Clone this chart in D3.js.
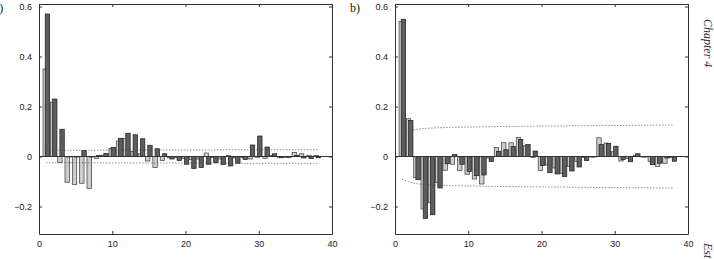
<!DOCTYPE html>
<html>
<head>
<meta charset="utf-8">
<script src="https://cdn.jsdelivr.net/npm/d3@7"></script>
<style>
  html, body { margin: 0; padding: 0; background: #fff; }
  svg { display: block; }
  .tick text { font-family: "Liberation Sans", Arial, sans-serif; font-size: 9px; fill: #222; }
</style>
</head>
<body>
<svg id="chart" width="714" height="259"></svg>
<script>
// ---- data ----
const lags = d3.range(1, 39);
const xTicks = [0, 10, 20, 30, 40];
const yTicks = [-0.2, 0, 0.2, 0.4, 0.6];
const panelLabels = ["a)", "b)"];
const headerText = "Chapter 4";
const footerText = "Est";

const aLight = [0.35, 0.217, -0.024, -0.103, -0.112, -0.107, -0.128, -0.007, 0.005, 0.032,
  0.062, 0.072, 0.02, 0.011, -0.018, -0.044, -0.016, -0.005, -0.005, -0.008,
  -0.012, -0.01, 0.014, -0.005, -0.01, 0.004, -0.006, -0.004, -0.01, -0.003,
  -0.007, 0.004, -0.004, -0.003, 0.016, 0.011, 0.005, 0.004];
const aDark = [0.57, 0.23, 0.109, -0.002, -0.002, 0.024, -0.002, 0.004, 0.012, 0.037,
  0.073, 0.093, 0.087, 0.071, 0.045, 0.031, 0.011, -0.01, -0.016, -0.031,
  -0.048, -0.044, -0.031, -0.025, -0.032, -0.038, -0.027, -0.012, 0.046, 0.082,
  0.038, 0.011, -0.005, -0.003, 0.004, -0.006, -0.008, -0.005];
const aBand = [0.025, 0.025, 0.025, 0.025, 0.025, 0.025, 0.025, 0.025, 0.026, 0.026,
  0.026, 0.026, 0.026, 0.026, 0.026, 0.026, 0.026, 0.026, 0.026, 0.026,
  0.026, 0.026, 0.026, 0.026, 0.027, 0.027, 0.027, 0.027, 0.027, 0.027,
  0.027, 0.027, 0.027, 0.027, 0.027, 0.027, 0.027, 0.027];

const bLight = [0.54, 0.151, -0.085, -0.21, -0.185, -0.105, -0.055, -0.031, -0.056, -0.071,
  -0.09, -0.11, -0.006, 0.036, 0.055, 0.055, 0.076, 0.043, -0.004, -0.056,
  -0.034, -0.046, -0.068, -0.04, -0.02, -0.004, -0.002, 0.075, 0.054, 0.019,
  -0.018, -0.008, 0.004, -0.002, -0.02, -0.04, -0.027, -0.005];
const bDark = [0.549, 0.144, -0.093, -0.248, -0.233, -0.126, -0.029, 0.008, -0.031, -0.06,
  -0.077, -0.074, -0.02, 0.021, 0.027, 0.04, 0.068, 0.048, 0.022, -0.036,
  -0.065, -0.07, -0.08, -0.058, -0.042, -0.016, -0.002, 0.048, 0.052, 0.041,
  -0.012, -0.021, 0.011, -0.002, -0.033, -0.027, -0.006, -0.019];
const bBand = [0.09, 0.103, 0.109, 0.112, 0.114, 0.115, 0.116, 0.117, 0.117, 0.118,
  0.118, 0.119, 0.119, 0.12, 0.12, 0.12, 0.121, 0.121, 0.121, 0.122,
  0.122, 0.122, 0.122, 0.123, 0.123, 0.123, 0.123, 0.124, 0.124, 0.124,
  0.124, 0.125, 0.125, 0.125, 0.125, 0.126, 0.126, 0.126];

// ---- drawing ----
const svg = d3.select("#chart");

function panel(opts) {
  const { left, right, top, bottom, light, dark, band, label } = opts;
  const x = d3.scaleLinear().domain([0, 40]).range([left, right]);
  const y = d3.scaleLinear().domain([-0.31, 0.61]).range([bottom, top]);
  const g = svg.append("g");

  // bars
  const bw = 0.6;
  g.selectAll(".lb").data(lags).join("rect")
    .attr("x", d => x(d - 0.45))
    .attr("width", x(bw) - x(0))
    .attr("y", (d, i) => y(Math.max(0, light[i])))
    .attr("height", (d, i) => Math.abs(y(light[i]) - y(0)))
    .attr("fill", "#cdcdcd").attr("stroke", "#3a3a3a").attr("stroke-width", 0.7);
  g.selectAll(".db").data(lags).join("rect")
    .attr("x", d => x(d - 0.15))
    .attr("width", x(bw) - x(0))
    .attr("y", (d, i) => y(Math.max(0, dark[i])))
    .attr("height", (d, i) => Math.abs(y(dark[i]) - y(0)))
    .attr("fill", "#5e5e5e").attr("stroke", "#1a1a1a").attr("stroke-width", 0.7);

  // zero line
  g.append("line")
    .attr("x1", x(0)).attr("x2", x(40))
    .attr("y1", y(0)).attr("y2", y(0))
    .attr("stroke", "#333").attr("stroke-width", 1);

  // confidence bands
  const lineUp = d3.line().x(d => x(d)).y((d, i) => y(band[i]));
  const lineDn = d3.line().x(d => x(d)).y((d, i) => y(-band[i]));
  [lineUp, lineDn].forEach(l => {
    g.append("path").attr("d", l(lags))
      .attr("fill", "none").attr("stroke", "#444")
      .attr("stroke-width", 0.9).attr("stroke-dasharray", "1,2");
  });

  // axes (inside ticks, box style)
  const ax = (gen, tr) => g.append("g").attr("transform", tr).call(gen)
    .call(s => s.select(".domain").attr("stroke", "#333"))
    .call(s => s.selectAll(".tick line").attr("stroke", "#333"));

  ax(d3.axisBottom(x).tickValues(xTicks).tickFormat(d3.format("d")).tickSizeInner(-3).tickSizeOuter(0).tickPadding(7),
     `translate(0,${bottom})`);
  ax(d3.axisTop(x).tickValues(xTicks).tickFormat("").tickSizeInner(-3).tickSizeOuter(0),
     `translate(0,${top})`);
  const yl = ax(d3.axisLeft(y).tickValues(yTicks).tickFormat(d => d === 0 ? "0" : d3.format(".1f")(d).replace("-", "\u2212"))
       .tickSizeInner(-3).tickSizeOuter(0).tickPadding(7),
     `translate(${left},0)`);
  ax(d3.axisRight(y).tickValues(yTicks).tickFormat("").tickSizeInner(-3).tickSizeOuter(0),
     `translate(${right},0)`);

  // panel label
  svg.append("text").attr("x", left - 45).attr("y", 12)
    .attr("font-family", "Liberation Serif, Times New Roman, serif")
    .attr("font-size", 12).attr("fill", "#222").text(label);
}

panel({ left: 39, right: 332, top: 4, bottom: 234, light: aLight, dark: aDark, band: aBand, label: panelLabels[0] });
panel({ left: 395, right: 688, top: 4, bottom: 234, light: bLight, dark: bDark, band: bBand, label: panelLabels[1] });

// running header text on the right edge
svg.append("text").attr("transform", "translate(704,19) rotate(90)")
  .attr("font-family", "Liberation Serif, Times New Roman, serif")
  .attr("font-style", "italic").attr("font-size", 12).attr("fill", "#333")
  .text(headerText);
svg.append("text").attr("transform", "translate(704,243) rotate(90)")
  .attr("font-family", "Liberation Serif, Times New Roman, serif")
  .attr("font-style", "italic").attr("font-size", 12).attr("fill", "#333")
  .text(footerText);
</script>
</body>
</html>
